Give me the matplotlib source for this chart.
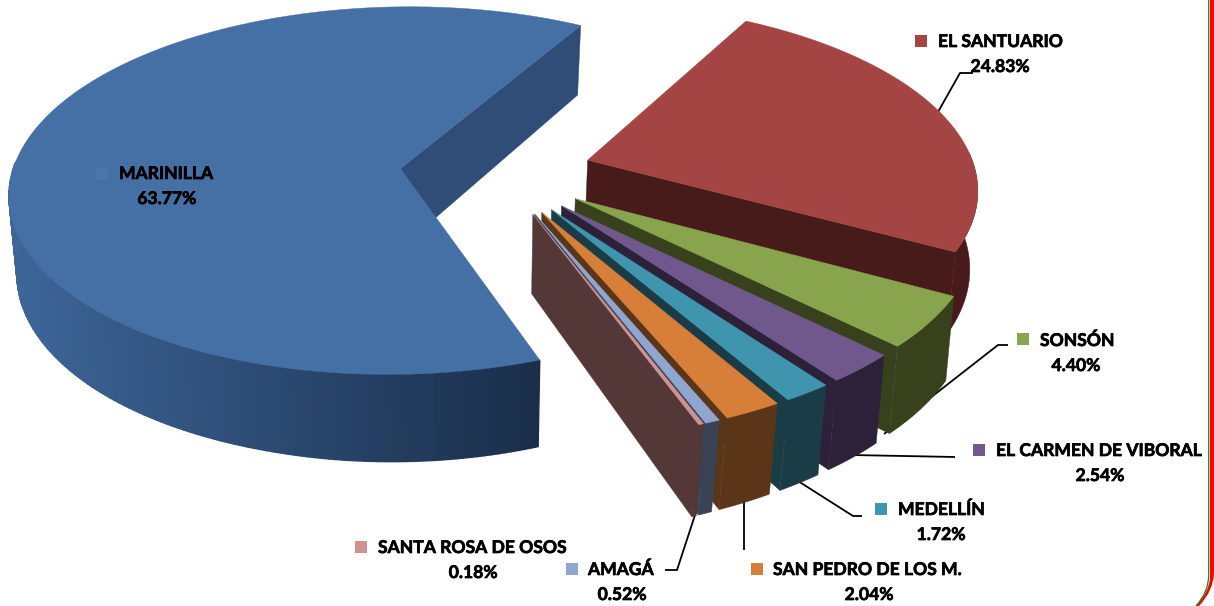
import numpy as np
import matplotlib
matplotlib.use("Agg")
import matplotlib.pyplot as plt
import matplotlib.patheffects as pe
from matplotlib.path import Path
from matplotlib.patches import PathPatch

plt.rcParams['font.family'] = ['Lato', 'DejaVu Sans']

# slices in clockwise order starting from the top right
names = ["EL SANTUARIO", "SONSÓN", "EL CARMEN DE VIBORAL", "MEDELLÍN",
         "SAN PEDRO DE LOS M.", "AMAGÁ", "SANTA ROSA DE OSOS", "MARINILLA"]
values = [24.83, 4.40, 2.54, 1.72, 2.04, 0.52, 0.18, 63.77]
top_colors = ["#a54543", "#88a44c", "#70578c", "#3f95ae", "#d77f39", "#8fa7d0", "#d19392", "#4470a6"]
wall_colors = ["#471b19", "#37421d", "#2c2138", "#193c47", "#5a3518", "#3a4256", "#543838", "#2f4d76"]

# key x, key y, text x, first line y, second line centre x
label_pos = [(921, 41, 938, 42, 1000), (1023, 339, 1040, 341, 1076),
             (979, 450, 996, 451, 1100), (881, 509, 898, 510, 941),
             (757, 569, 773, 570, 869), (572, 569, 588, 570, 622),
             (361, 547, 378, 548, 473), (102, 174, 119, 174, 167)]
leaders = [[(938, 112), (960, 73), (973, 73)],
           [(884, 434), (998, 345), (1008, 345)],
           [(852, 455), (955, 457)],
           [(798, 481), (853, 516), (862, 516)],
           [(744, 500), (744, 550)],
           [(696, 512), (677, 570), (665, 570)]]

# projection of the tilted pie plane onto the picture
cy = 172
centre_x = [499, 499, 499, 499, 499, 499, 499, 493]
rx, ry = 388, 182
persp = [0.14, 0.14, 0.14, 0.14, 0.14, 0.14, 0.14, 0.12]
explode = 0.24
depth = 77
start = 60.7


def project(i, x, y, low=False):
    s = 1 / (1 + persp[i] * y)
    sx = rx * x * s
    if low:
        # lower face pulls in a little towards the middle
        pull = np.minimum(np.abs(sx) * 0.035, 8)
        return centre_x[i] + sx - np.sign(sx) * pull, cy - ry * y * s + depth * s
    return centre_x[i] + sx, cy - ry * y * s


fig = plt.figure(figsize=(12.14, 6.06), dpi=100)
ax = fig.add_axes([0, 0, 1, 1])
ax.set_xlim(0, 1214)
ax.set_ylim(606, 0)
ax.axis("off")

angles = start - np.cumsum([0] + values) * 3.6


def draw_slice(i, z):
    a0, a1 = np.radians(angles[i]), np.radians(angles[i + 1])
    mid = (a0 + a1) / 2
    ox, oy = explode * np.cos(mid), explode * np.sin(mid)
    th = np.linspace(a0, a1, max(int(abs(a1 - a0) * 60), 12))
    rim_x, rim_y = ox + np.cos(th), oy + np.sin(th)
    tx, ty = project(i, rim_x, rim_y)
    bx, by = project(i, rim_x, rim_y, low=True)
    ax0, ay0 = project(i, ox, oy)
    bx0, by0 = project(i, ox, oy, low=True)

    # only the cut face at the clockwise end looks towards us
    face = [(ax0, ay0), (tx[-1], ty[-1]), (bx[-1], by[-1]), (bx0, by0)]
    ax.fill(*zip(*face), color=wall_colors[i], lw=0.3, zorder=z)

    # outer wall
    vis = np.sin(th) < 0.05
    if names[i] == "MARINILLA":
        # split in strips for the gradient
        idx = np.where(vis)[0]
        for k in idx[:-1]:
            quad = [(tx[k], ty[k]), (tx[k + 1], ty[k + 1]), (bx[k + 1], by[k + 1]), (bx[k], by[k])]
            f = np.clip((tx[k] - 10) / 527, 0, 1)
            col = np.array([0.24, 0.40, 0.60]) * (1 - f) + np.array([0.10, 0.18, 0.29]) * f
            ax.fill(*zip(*quad), color=col, lw=1.0, zorder=z + 1)
    elif vis.any():
        wall = list(zip(tx[vis], ty[vis])) + list(zip(bx[vis][::-1], by[vis][::-1]))
        ax.fill(*zip(*wall), color=wall_colors[i], lw=0.3, zorder=z + 1)

    top = [(ax0, ay0)] + list(zip(tx, ty))
    ax.fill(*zip(*top), color=top_colors[i], lw=0.3, zorder=z + 2)


draw_slice(7, 1)
for i in range(7):
    draw_slice(i, 10 + 3 * i)

for pts in leaders:
    ax.plot(*zip(*pts), color="black", lw=1.3, zorder=5, solid_capstyle="butt")

bold = [pe.withStroke(linewidth=0.5, foreground="black")]
for i, (kx, ky, tx, ty, vx) in enumerate(label_pos):
    key_col = "#4a76aa" if names[i] == "MARINILLA" else top_colors[i]
    ax.plot(kx, ky, marker="s", ms=8.2, mew=0, color=key_col, zorder=41)
    ax.text(tx, ty, names[i], fontsize=12.6, fontweight="bold", color="black",
            ha="left", va="center", zorder=42, path_effects=bold)
    ax.text(vx, ty + 25, f"{values[i]:.2f}%", fontsize=12.6, fontweight="bold", color="black",
            ha="center", va="center", zorder=42, path_effects=bold)

# frame corner at the right of the slide
red = Path([(1210, 0), (1214, 0), (1214, 572), (1214, 590), (1199, 606), (1196, 606),
            (1209, 592), (1210, 578), (1210, 0)],
           [Path.MOVETO, Path.LINETO, Path.LINETO, Path.CURVE3, Path.CURVE3, Path.LINETO,
            Path.CURVE3, Path.CURVE3, Path.CLOSEPOLY])
ax.add_patch(PathPatch(red, fc="#ff0000", ec="none", zorder=50))
green = Path([(1208.7, 0), (1208.7, 575), (1208.7, 592), (1196, 606)],
             [Path.MOVETO, Path.LINETO, Path.CURVE3, Path.CURVE3])
ax.add_patch(PathPatch(green, fc="none", ec="#0a8a1e", lw=0.9, zorder=51))

fig.savefig("out.png", dpi=100)
